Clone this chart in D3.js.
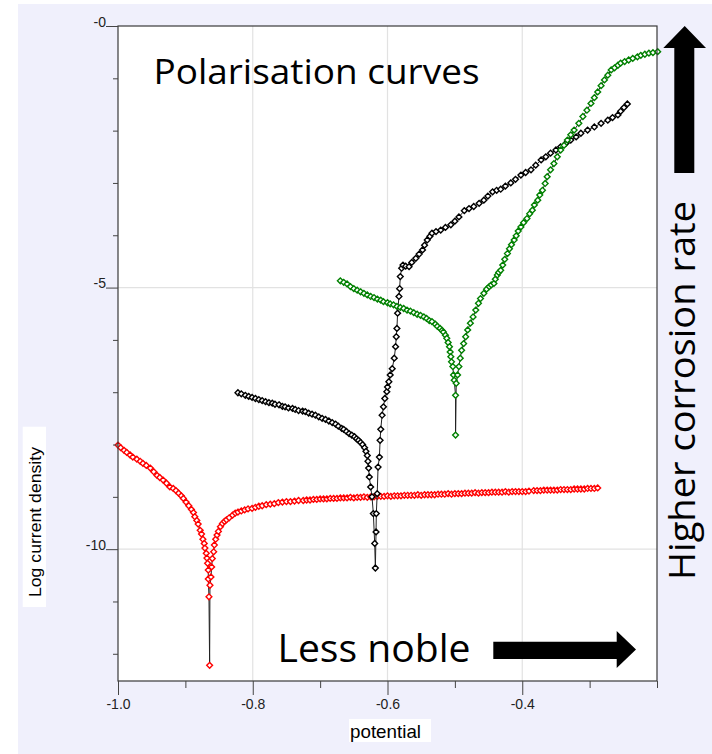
<!DOCTYPE html>
<html>
<head>
<meta charset="utf-8">
<script src="https://cdn.jsdelivr.net/npm/d3@7"></script>
<style>
  body { margin: 0; background: #fff; }
  svg { display: block; }
</style>
</head>
<body>
<svg id="chart" width="712" height="754"></svg>
<script>
// potential (V) vs log current density
const redCathodic = [
  [-1.000,-8.01],[-0.996,-8.06],[-0.991,-8.11],[-0.987,-8.15],[-0.982,-8.20],[-0.978,-8.24],[-0.972,-8.28],[-0.967,-8.32],[-0.963,-8.36],[-0.958,-8.40],
  [-0.952,-8.45],[-0.947,-8.52],[-0.942,-8.59],[-0.938,-8.63],[-0.933,-8.68],[-0.928,-8.74],[-0.923,-8.81],[-0.918,-8.84],[-0.914,-8.88],[-0.910,-8.93],
  [-0.906,-8.98],[-0.903,-9.03],[-0.899,-9.10],[-0.895,-9.17],[-0.891,-9.24],[-0.888,-9.30],[-0.886,-9.38],[-0.883,-9.45],[-0.881,-9.52],[-0.878,-9.64],
  [-0.876,-9.71],[-0.874,-9.81],[-0.872,-9.89],[-0.871,-9.98],[-0.869,-10.08],[-0.868,-10.17],[-0.867,-10.27],[-0.866,-10.40],[-0.866,-10.57],[-0.865,-10.91],
  [-0.864,-12.22]
];
const redAnodic = [
  [-0.8635,-10.69],[-0.862,-10.53],[-0.861,-10.34],[-0.860,-10.18],[-0.858,-10.05],[-0.857,-9.92],[-0.855,-9.81],[-0.853,-9.73],[-0.851,-9.66],[-0.848,-9.57],
  [-0.845,-9.51],[-0.842,-9.47],[-0.839,-9.44],[-0.835,-9.40],[-0.830,-9.35],[-0.826,-9.31],[-0.822,-9.29],[-0.817,-9.27],[-0.812,-9.25],[-0.807,-9.23],
  [-0.801,-9.22],[-0.796,-9.20],[-0.791,-9.18],[-0.786,-9.17],[-0.780,-9.15],[-0.774,-9.14],[-0.768,-9.13],[-0.762,-9.11],[-0.756,-9.10],[-0.750,-9.09],
  [-0.744,-9.09],[-0.738,-9.08],[-0.732,-9.07],[-0.725,-9.07],[-0.720,-9.06],[-0.715,-9.06],[-0.710,-9.05],[-0.705,-9.05],[-0.700,-9.04],[-0.695,-9.04],
  [-0.690,-9.04],[-0.685,-9.03],[-0.680,-9.03],[-0.675,-9.03],[-0.670,-9.02],[-0.665,-9.02],[-0.660,-9.02],[-0.655,-9.01],[-0.650,-9.02],[-0.645,-9.01],
  [-0.640,-9.01],[-0.635,-9.00],[-0.630,-9.01],[-0.625,-9.00],[-0.620,-9.00],[-0.615,-8.99],[-0.610,-8.99],[-0.605,-8.99],[-0.600,-8.98],[-0.595,-8.99],
  [-0.590,-8.98],[-0.585,-8.98],[-0.580,-8.98],[-0.575,-8.97],[-0.570,-8.97],[-0.565,-8.97],[-0.560,-8.97],[-0.555,-8.96],[-0.550,-8.97],[-0.545,-8.96],
  [-0.540,-8.96],[-0.535,-8.96],[-0.530,-8.96],[-0.525,-8.95],[-0.520,-8.95],[-0.515,-8.95],[-0.510,-8.94],[-0.505,-8.95],[-0.500,-8.94],[-0.495,-8.94],
  [-0.490,-8.94],[-0.485,-8.93],[-0.480,-8.93],[-0.475,-8.93],[-0.470,-8.92],[-0.465,-8.93],[-0.460,-8.92],[-0.455,-8.92],[-0.450,-8.92],[-0.445,-8.91],
  [-0.440,-8.91],[-0.435,-8.91],[-0.430,-8.91],[-0.425,-8.90],[-0.420,-8.91],[-0.415,-8.90],[-0.410,-8.90],[-0.405,-8.90],[-0.400,-8.90],[-0.395,-8.90],
  [-0.390,-8.89],[-0.383,-8.88],[-0.378,-8.88],[-0.373,-8.88],[-0.368,-8.87],[-0.363,-8.87],[-0.358,-8.87],[-0.353,-8.87],[-0.348,-8.87],[-0.343,-8.86],
  [-0.338,-8.86],[-0.333,-8.86],[-0.328,-8.86],[-0.323,-8.85],[-0.318,-8.85],[-0.313,-8.85],[-0.308,-8.85],[-0.303,-8.84],[-0.298,-8.84],[-0.293,-8.84],
  [-0.288,-8.83]
];

const blackCathodic = [
  [-0.822,-7.01],[-0.817,-7.03],[-0.811,-7.06],[-0.806,-7.08],[-0.801,-7.10],[-0.796,-7.12],[-0.791,-7.14],[-0.786,-7.16],[-0.781,-7.18],[-0.776,-7.20],
  [-0.771,-7.21],[-0.767,-7.23],[-0.761,-7.24],[-0.756,-7.27],[-0.752,-7.28],[-0.747,-7.30],[-0.741,-7.31],[-0.737,-7.33],[-0.732,-7.35],[-0.726,-7.36],
  [-0.722,-7.37],[-0.717,-7.40],[-0.712,-7.42],[-0.707,-7.44],[-0.702,-7.47],[-0.697,-7.50],[-0.692,-7.52],[-0.687,-7.55],[-0.682,-7.58],[-0.677,-7.61],
  [-0.673,-7.65],[-0.668,-7.69],[-0.665,-7.71],[-0.661,-7.75],[-0.657,-7.79],[-0.653,-7.82],[-0.649,-7.85],[-0.646,-7.89],[-0.643,-7.92],[-0.640,-7.96],
  [-0.637,-8.00],[-0.634,-8.06],[-0.632,-8.13],[-0.630,-8.21],[-0.629,-8.32],[-0.628,-8.45],[-0.627,-8.62],[-0.625,-8.81],[-0.623,-9.00],[-0.621,-9.32],
  [-0.619,-9.89],[-0.618,-10.36]
];
const blackAnodic = [
  [-0.617,-9.67],[-0.6166,-9.32],[-0.6153,-8.94],[-0.614,-8.43],[-0.612,-8.24],[-0.611,-7.92],[-0.610,-7.71],[-0.608,-7.44],[-0.606,-7.28],[-0.604,-7.12],
  [-0.601,-6.99],[-0.600,-6.90],[-0.598,-6.80],[-0.596,-6.67],[-0.593,-6.55],[-0.590,-6.35],[-0.588,-6.13],[-0.587,-5.94],[-0.586,-5.78],[-0.585,-5.49],
  [-0.583,-5.17],[-0.582,-5.02],[-0.581,-4.79],[-0.579,-4.63],[-0.577,-4.57],[-0.573,-4.59],[-0.568,-4.60],[-0.564,-4.52],[-0.558,-4.44],[-0.553,-4.36],
  [-0.548,-4.28],[-0.545,-4.19],[-0.541,-4.09],[-0.537,-4.02],[-0.534,-3.96],[-0.528,-3.93],[-0.521,-3.90],[-0.514,-3.85],[-0.506,-3.80],[-0.500,-3.73],
  [-0.494,-3.65],[-0.486,-3.53],[-0.479,-3.49],[-0.472,-3.45],[-0.464,-3.39],[-0.457,-3.33],[-0.451,-3.25],[-0.444,-3.17],[-0.438,-3.14],[-0.432,-3.12],
  [-0.425,-3.06],[-0.417,-3.00],[-0.410,-2.93],[-0.402,-2.85],[-0.395,-2.80],[-0.387,-2.75],[-0.380,-2.66],[-0.372,-2.56],[-0.365,-2.50],[-0.358,-2.43],
  [-0.350,-2.37],[-0.343,-2.31],[-0.335,-2.24],[-0.328,-2.18],[-0.320,-2.12],[-0.313,-2.05],[-0.303,-1.99],[-0.293,-1.93],[-0.283,-1.86],[-0.273,-1.80],
  [-0.266,-1.75],[-0.258,-1.70],[-0.254,-1.63],[-0.249,-1.56],[-0.244,-1.49]
];

const greenCathodic = [
  [-0.670,-4.87],[-0.665,-4.90],[-0.660,-4.93],[-0.655,-4.98],[-0.650,-5.02],[-0.645,-5.05],[-0.640,-5.08],[-0.635,-5.11],[-0.630,-5.14],[-0.625,-5.17],
  [-0.620,-5.19],[-0.615,-5.22],[-0.610,-5.24],[-0.606,-5.27],[-0.600,-5.29],[-0.596,-5.31],[-0.591,-5.33],[-0.586,-5.36],[-0.581,-5.38],[-0.576,-5.40],
  [-0.571,-5.43],[-0.566,-5.45],[-0.561,-5.48],[-0.556,-5.51],[-0.551,-5.53],[-0.546,-5.56],[-0.542,-5.59],[-0.538,-5.63],[-0.534,-5.65],[-0.529,-5.70],
  [-0.526,-5.74],[-0.522,-5.78],[-0.519,-5.82],[-0.517,-5.85],[-0.514,-5.91],[-0.512,-5.97],[-0.510,-6.05],[-0.508,-6.13],[-0.507,-6.23],[-0.506,-6.32],
  [-0.505,-6.42],[-0.503,-6.51],[-0.502,-6.67],[-0.501,-6.77],[-0.499,-7.06],[-0.499,-7.82]
];
const greenAnodic = [
  [-0.498,-6.83],[-0.496,-6.67],[-0.494,-6.51],[-0.492,-6.35],[-0.490,-6.20],[-0.487,-6.07],[-0.484,-5.94],[-0.481,-5.81],[-0.477,-5.68],[-0.473,-5.56],
  [-0.469,-5.43],[-0.465,-5.30],[-0.462,-5.21],[-0.457,-5.11],[-0.453,-5.03],[-0.449,-4.98],[-0.446,-4.95],[-0.442,-4.92],[-0.440,-4.84],[-0.437,-4.76],
  [-0.435,-4.71],[-0.432,-4.67],[-0.429,-4.57],[-0.426,-4.46],[-0.422,-4.35],[-0.419,-4.26],[-0.416,-4.18],[-0.412,-4.09],[-0.409,-4.01],[-0.406,-3.92],
  [-0.402,-3.84],[-0.398,-3.76],[-0.393,-3.68],[-0.389,-3.59],[-0.385,-3.52],[-0.382,-3.42],[-0.377,-3.33],[-0.374,-3.23],[-0.370,-3.14],[-0.366,-3.01],
  [-0.363,-2.88],[-0.358,-2.75],[-0.353,-2.63],[-0.348,-2.50],[-0.343,-2.37],[-0.338,-2.28],[-0.333,-2.18],[-0.328,-2.08],[-0.323,-1.99],[-0.316,-1.86],
  [-0.310,-1.73],[-0.304,-1.61],[-0.298,-1.48],[-0.293,-1.37],[-0.288,-1.26],[-0.283,-1.14],[-0.278,-1.03],[-0.273,-0.94],[-0.268,-0.84],[-0.263,-0.80],
  [-0.258,-0.75],[-0.254,-0.71],[-0.248,-0.68],[-0.242,-0.65],[-0.236,-0.62],[-0.229,-0.59],[-0.224,-0.56],[-0.218,-0.54],[-0.212,-0.52],[-0.206,-0.51],
  [-0.199,-0.49]
];

const xMajorTicks = [-1.0, -0.8, -0.6, -0.4];
const xMinorTicks = [-0.9, -0.7, -0.5, -0.3, -0.2];
const yMajorTicks = [0, -5, -10];
const yMinorTicks = [-1, -2, -3, -4, -6, -7, -8, -9, -11, -12];
const xGrid = [-0.8, -0.6, -0.4];
const yGrid = [-5, -10];

const width = 712, height = 754;
const margin = {left: 118, top: 26, right: 55, bottom: 73};

const series = [
  {name: "red",   color: "#ff0000", points: redCathodic.concat(redAnodic)},
  {name: "black", color: "#000000", points: blackCathodic.concat(blackAnodic)},
  {name: "green", color: "#008000", points: greenCathodic.concat(greenAnodic)}
];

const x = d3.scaleLinear().domain([-1.0, -0.2]).range([margin.left, width - margin.right]);
const y = d3.scaleLinear().domain([0, -12.52]).range([margin.top, height - margin.bottom]);

const svg = d3.select("#chart");
const tickFont = "'Liberation Sans Narrow', 'Liberation Sans', Arial, sans-serif";
const bigFont = "'Open Sans', 'Noto Sans', sans-serif";

// backgrounds
svg.append("rect").attr("width", width).attr("height", height).attr("fill", "#fff");
svg.append("rect").attr("x", 18).attr("y", 4).attr("width", width - 18).attr("height", height - 4).attr("fill", "#f0f0fc");
svg.append("rect")
  .attr("x", x(-1.0)).attr("y", y(0))
  .attr("width", x(-0.2) - x(-1.0)).attr("height", y(-12.52) - y(0))
  .attr("fill", "#fff");

// grid
svg.append("g").selectAll("line").data(xGrid).join("line")
  .attr("x1", d => x(d)).attr("x2", d => x(d))
  .attr("y1", y(0)).attr("y2", y(-12.52))
  .attr("stroke", "#e2e2e2").attr("stroke-width", 1.2);
svg.append("g").selectAll("line").data(yGrid).join("line")
  .attr("x1", x(-1.0)).attr("x2", x(-0.2))
  .attr("y1", d => y(d)).attr("y2", d => y(d))
  .attr("stroke", "#e2e2e2").attr("stroke-width", 1.2);

// curves
const line = d3.line().x(d => x(d[0])).y(d => y(d[1]));
const diamond = "M0,-2.9L2.9,0L0,2.9L-2.9,0Z";

series.forEach(s => {
  const g = svg.append("g").attr("class", "series-" + s.name);
  g.append("path")
    .datum(s.points)
    .attr("d", line)
    .attr("fill", "none")
    .attr("stroke", "#222")
    .attr("stroke-width", 1);
  g.selectAll("path.pt").data(s.points).join("path")
    .attr("class", "pt")
    .attr("transform", d => `translate(${x(d[0])},${y(d[1])})`)
    .attr("d", diamond)
    .attr("fill", "#fff")
    .attr("stroke", s.color)
    .attr("stroke-width", 1.4);
});

// frame
svg.append("rect")
  .attr("x", x(-1.0)).attr("y", y(0))
  .attr("width", x(-0.2) - x(-1.0)).attr("height", y(-12.52) - y(0))
  .attr("fill", "none").attr("stroke", "#3a3a3a").attr("stroke-width", 1.2);

// axes
const axisColor = "#444";
svg.append("g")
  .attr("transform", `translate(0,${y(-12.52)})`)
  .attr("color", axisColor)
  .call(d3.axisBottom(x).tickValues(xMinorTicks).tickSize(7).tickSizeOuter(0).tickFormat(""))
  .call(g => g.select(".domain").remove());
svg.append("g")
  .attr("transform", `translate(0,${y(-12.52)})`)
  .attr("color", axisColor)
  .call(d3.axisBottom(x).tickValues(xMajorTicks).tickSize(14).tickSizeOuter(0).tickFormat(d => d.toFixed(1)))
  .call(g => g.select(".domain").remove())
  .call(g => g.selectAll("text")
    .attr("y", 28).attr("dy", 0)
    .attr("fill", "#222")
    .attr("font-size", 14).attr("font-family", tickFont));

svg.append("g")
  .attr("transform", `translate(${x(-1.0)},0)`)
  .attr("color", axisColor)
  .call(d3.axisLeft(y).tickValues(yMinorTicks).tickSize(5).tickSizeOuter(0).tickFormat(""))
  .call(g => g.select(".domain").remove());
svg.append("g")
  .attr("transform", `translate(${x(-1.0)},0)`)
  .attr("color", axisColor)
  .call(d3.axisLeft(y).tickValues(yMajorTicks).tickSize(12).tickPadding(0).tickSizeOuter(0)
    .tickFormat(d => d === 0 ? "-0" : String(d)))
  .call(g => g.select(".domain").remove())
  .call(g => g.selectAll("text")
    .attr("dy", 0)
    .attr("fill", "#222")
    .attr("font-size", 14).attr("font-family", tickFont));

// axis titles on white boxes
svg.append("rect").attr("x", 349).attr("y", 719).attr("width", 82).attr("height", 23).attr("fill", "#fff");
svg.append("text")
  .attr("x", 350).attr("y", 737.5)
  .attr("font-family", "'Liberation Sans', Arial, sans-serif").attr("font-size", 18.5)
  .attr("textLength", 71).attr("lengthAdjust", "spacingAndGlyphs")
  .attr("fill", "#000")
  .text("potential");

svg.append("rect").attr("x", 22.7).attr("y", 426.7).attr("width", 23.3).attr("height", 180.3).attr("fill", "#fff");
svg.append("text")
  .attr("transform", "translate(41,597) rotate(-90)")
  .attr("font-family", "'Liberation Sans', Arial, sans-serif").attr("font-size", 16.5)
  .attr("textLength", 150).attr("lengthAdjust", "spacingAndGlyphs")
  .attr("fill", "#000")
  .text("Log current density");

// annotations
svg.append("text")
  .attr("x", 153.5).attr("y", 83.5)
  .attr("font-family", bigFont).attr("font-size", 35.5)
  .attr("textLength", 326).attr("lengthAdjust", "spacingAndGlyphs")
  .attr("fill", "#000")
  .text("Polarisation curves");

svg.append("text")
  .attr("x", 277.5).attr("y", 661.7)
  .attr("font-family", bigFont).attr("font-size", 38.5)
  .attr("textLength", 193).attr("lengthAdjust", "spacingAndGlyphs")
  .attr("fill", "#000")
  .text("Less noble");

svg.append("text")
  .attr("transform", "translate(695,580) rotate(-90)")
  .attr("font-family", bigFont).attr("font-size", 36.5)
  .attr("textLength", 379).attr("lengthAdjust", "spacingAndGlyphs")
  .attr("fill", "#000")
  .text("Higher corrosion rate");

// arrows
svg.append("path")
  .attr("d", "M493.3,641.7H616.7V631L636,649.5L616.7,668V659H493.3Z")
  .attr("fill", "#000");
svg.append("path")
  .attr("d", "M674.3,173V48H663.3L684.7,26L706,48H694.3V173Z")
  .attr("fill", "#000");
</script>
</body>
</html>
